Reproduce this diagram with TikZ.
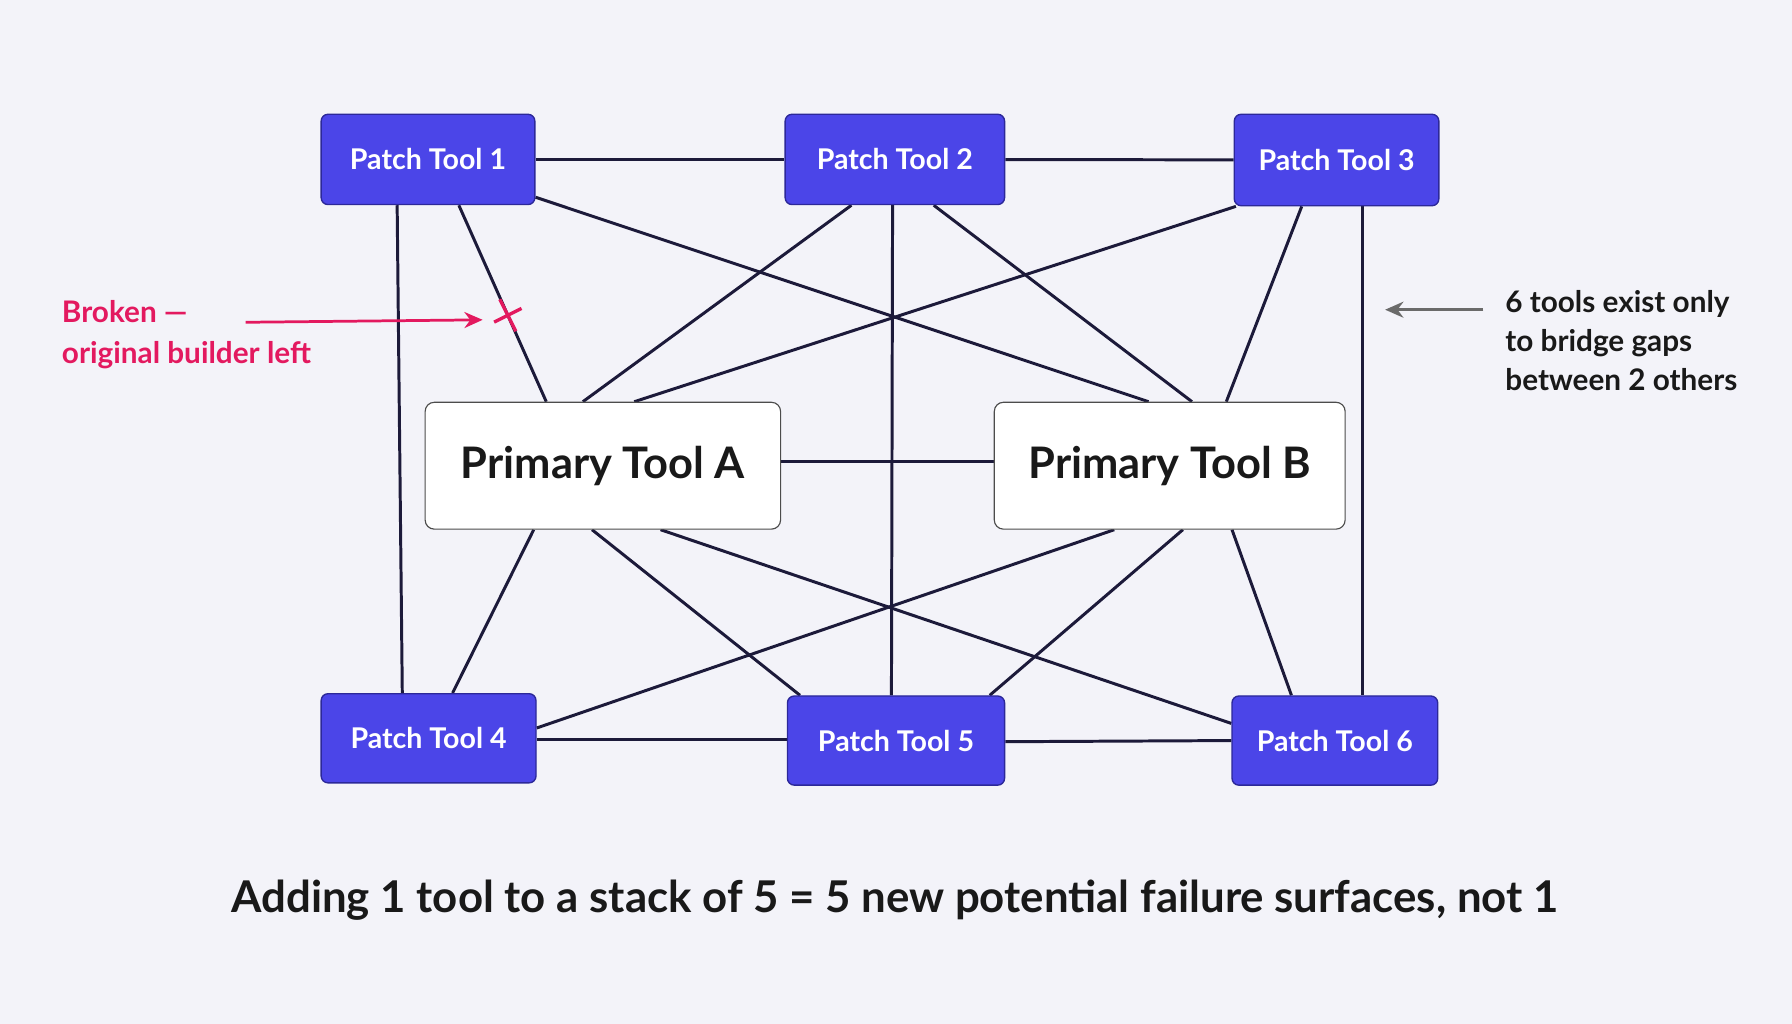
\documentclass[tikz,border=0pt]{standalone}
\usepackage{fontspec}
\setmainfont{Lato}
\usetikzlibrary{calc,arrows.meta}
\pgfdeclarelayer{bg}
\pgfdeclarelayer{back}
\pgfsetlayers{back,bg,main}
\definecolor{bgc}{HTML}{F3F3F9}
\definecolor{patch}{HTML}{4B45E8}
\definecolor{patchb}{HTML}{2C2899}
\definecolor{edge}{HTML}{1C1A3A}
\definecolor{pink}{HTML}{E3195F}
\definecolor{grayc}{HTML}{6A6A6A}
\begin{document}
\begin{tikzpicture}[x=1pt,y=1pt,
  patch/.style={draw=patchb,fill=patch,rounded corners=6pt,line width=1.2pt,text=white,font=\bfseries\fontsize{25}{30}\selectfont,inner sep=0pt},
  prim/.style={draw=black!70,fill=white,rounded corners=8pt,line width=1pt,text=black!90,font=\bfseries\fontsize{38}{44}\selectfont,inner sep=0pt},
  ed/.style={draw=edge,line width=2.6pt}]
\begin{pgfonlayer}{back}
\fill[bgc] (0,0) rectangle (1568,896);
\end{pgfonlayer}
\useasboundingbox (0,0) rectangle (1568,896);
\node[patch,minimum width=187pt,minimum height=79pt] (P1) at (374.5,756.5) {Patch Tool 1};
\node[patch,minimum width=192pt,minimum height=79pt] (P2) at (783,756.5) {Patch Tool 2};
\node[patch,minimum width=179pt,minimum height=80pt] (P3) at (1169.5,756) {Patch Tool 3};
\node[patch,minimum width=188pt,minimum height=78pt] (P4) at (375,250) {Patch Tool 4};
\node[patch,minimum width=190pt,minimum height=78pt] (P5) at (784,248) {Patch Tool 5};
\node[patch,minimum width=180pt,minimum height=78pt] (P6) at (1168,248) {Patch Tool 6};
\node[prim,minimum width=311pt,minimum height=111pt] (A) at (527.5,488.5) {Primary Tool A};
\node[prim,minimum width=307pt,minimum height=111pt] (B) at (1023.5,488.5) {Primary Tool B};
\begin{pgfonlayer}{bg}
\draw[ed] (P1) -- (P2);
\draw[ed] (P2) -- (P3);
\draw[ed] ([xshift=-27]P1.south) -- ([xshift=-23]P4.north);
\draw[ed] ([xshift=27]P1.south) -- coordinate[pos=0.56](brk) ([xshift=-49.5]A.north);
\draw[ed] ([yshift=7]P1.south east) -- ([xshift=-18.5]B.north);
\draw[ed] ([xshift=-38]P2.south) -- ([xshift=-17.5]A.north);
\draw[ed] ([xshift=-2]P2.south) -- ([xshift=-4]P5.north);
\draw[ed] ([xshift=34]P2.south) -- ([xshift=19.5]B.north);
\draw[ed] ([xshift=2]P3.south west) -- ([xshift=27.5]A.north);
\draw[ed] ([xshift=-30.5]P3.south) -- ([xshift=49.5]B.north);
\draw[ed] ([xshift=22.5]P3.south) -- ([xshift=24]P6.north);
\draw[ed] ([yshift=3.5]A.east) -- ([yshift=3.5]B.west);
\draw[ed] ([xshift=-60.5]A.south) -- ([xshift=21]P4.north);
\draw[ed] ([xshift=-9.5]A.south) -- ([xshift=-84]P5.north);
\draw[ed] ([xshift=50.5]A.south) -- ([yshift=15]P6.west);
\draw[ed] ([xshift=-48.5]B.south) -- ([yshift=9]P4.east);
\draw[ed] ([xshift=11.5]B.south) -- ([xshift=82]P5.north);
\draw[ed] ([xshift=54.5]B.south) -- ([xshift=-38]P6.north);
\draw[ed] ([yshift=-1]P4.east) -- ([yshift=1]P5.west);
\draw[ed] ([yshift=-1]P5.east) -- (P6.west);
\end{pgfonlayer}
\draw[pink,line width=3pt] ($(brk)+(-7,14)$) -- ($(brk)+(7,-14)$);
\draw[pink,line width=3pt] ($(brk)+(-12,-6)$) -- ($(brk)+(12,6)$);
\node[anchor=west,text=pink,font=\bfseries\fontsize{26}{36}\selectfont,align=left,inner sep=0pt] (brtext) at (54,603) {Broken —\\original builder left};
\coordinate (brstart) at (215,614);
\draw[pink,line width=2.4pt,-{Stealth[length=16pt,width=14pt]}] (brstart) -- ($(brk)+(-22,-4)$);
\node[anchor=west,text=black!90,font=\bfseries\fontsize{26}{34.5}\selectfont,align=left,inner sep=0pt] (note) at (1317,598) {6 tools exist only\\to bridge gaps\\between 2 others};
\coordinate (nstart) at (1298,625);
\coordinate (nend) at (1212,625);
\draw[grayc,line width=2.4pt,-{Stealth[length=16pt,width=14pt]}] (nstart) -- (nend);
\node[text=black!90,font=\bfseries\fontsize{38.3}{42}\selectfont,inner sep=0pt] (cap) at (783,108) {Adding 1 tool to a stack of 5 = 5 new potential failure surfaces, not 1};
\end{tikzpicture}
\end{document}
